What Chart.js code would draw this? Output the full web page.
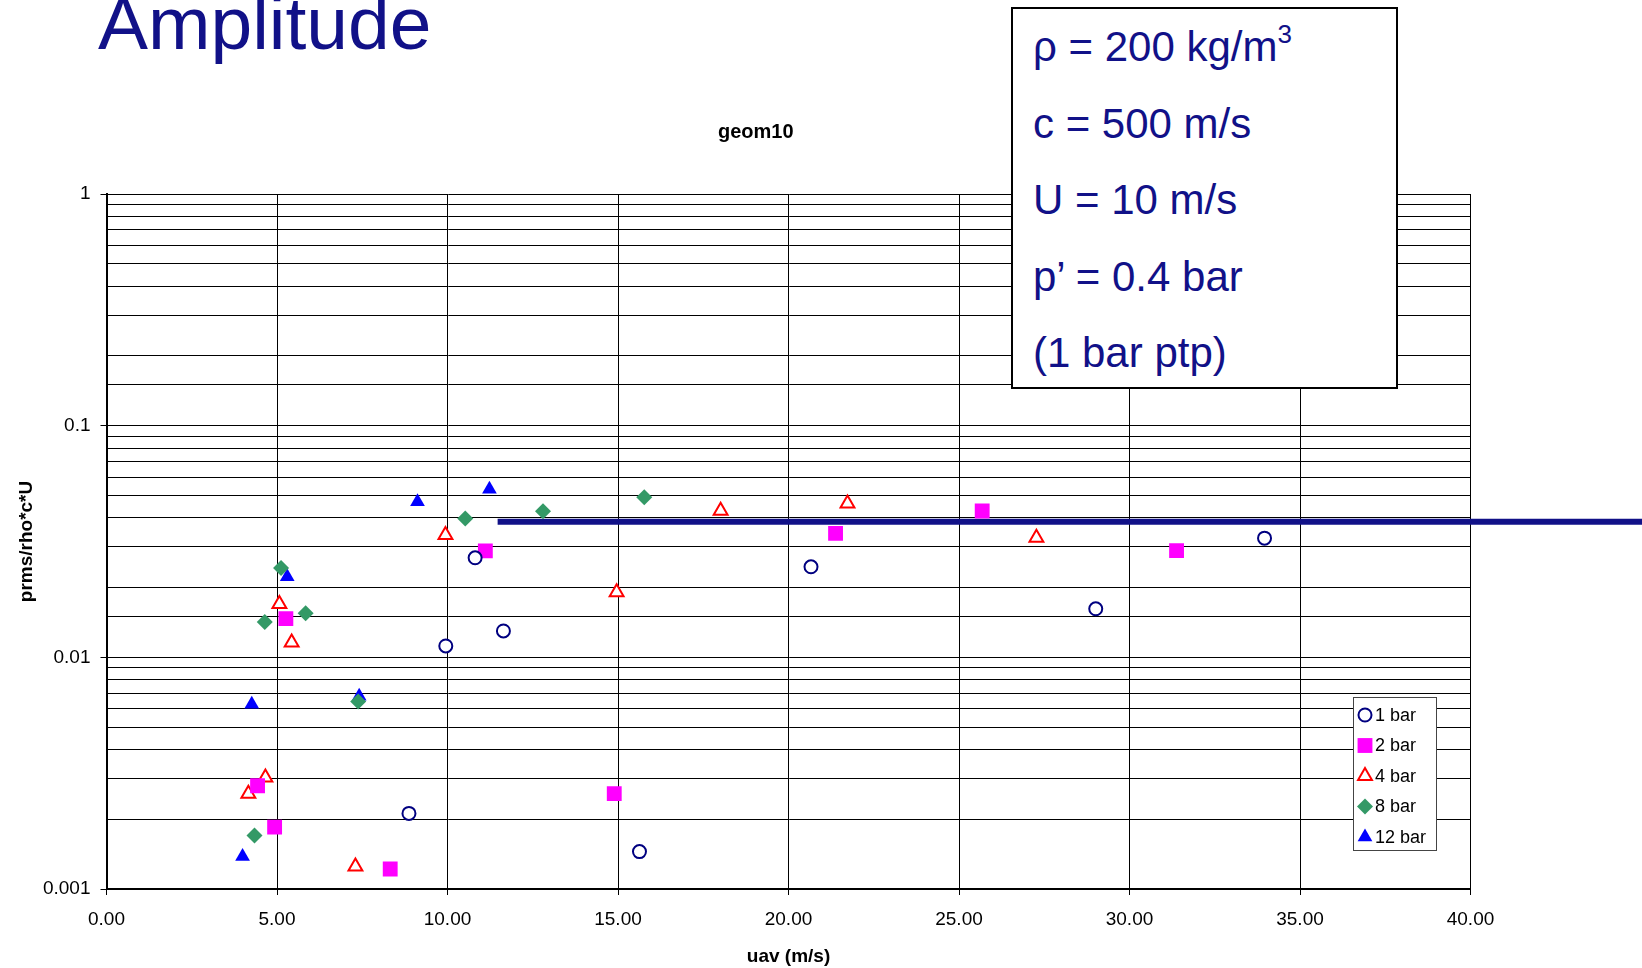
<!DOCTYPE html>
<html>
<head>
<meta charset="utf-8">
<title>Amplitude</title>
<script src="https://cdn.jsdelivr.net/npm/chart.js@4.4.1/dist/chart.umd.min.js"></script>
<style>
  body { margin: 0; background: #fff; }
  #wrap { position: relative; width: 1642px; height: 968px; overflow: hidden; font-family: 'Liberation Sans', Arial, sans-serif; }
  #ampChart { position: absolute; left: 0; top: 0; }
  #slideTitle { position: absolute; left: 98px; top: -14px; font-size: 75px; line-height: 74px; color: #111188; white-space: nowrap; }
  #params { position: absolute; left: 1011px; top: 7px; width: 387px; height: 382px; box-sizing: border-box;
            border: 2px solid #000; background: #fff; color: #111188; font-size: 42px; line-height: 76.6px;
            padding: 0 0 0 20px; white-space: nowrap; }
  #params sup { font-size: 26px; position: relative; top: -3px; vertical-align: super; line-height: 0; }
</style>
</head>
<body>
<div id="wrap">
  <canvas id="ampChart" width="1642" height="968"></canvas>
  <div id="slideTitle">Amplitude</div>
  <div id="params">
    <div>&rho; = 200 kg/m<sup>3</sup></div>
    <div>c = 500 m/s</div>
    <div>U = 10 m/s</div>
    <div>p&rsquo; = 0.4 bar</div>
    <div>(1 bar ptp)</div>
  </div>
</div>
<script>
// legend names
const seriesNames = ['1 bar', '2 bar', '4 bar', '8 bar', '12 bar'];

// uav (m/s) and prms/rho*c*U per pressure
const u1bar = [8.87, 9.95, 10.81, 11.64, 15.63, 20.66, 29.01, 33.96];
const p1bar = [0.00212, 0.0112, 0.0269, 0.0130, 0.00145, 0.0246, 0.0162, 0.0327];

const u2bar = [4.43, 4.93, 5.26, 8.32, 11.11, 14.89, 21.38, 25.68, 31.38];
const p2bar = [0.00279, 0.00185, 0.0147, 0.00122, 0.0288, 0.00258, 0.0343, 0.0428, 0.0289];

const u4bar = [4.16, 4.66, 5.07, 5.43, 7.30, 9.94, 14.96, 18.01, 21.73, 27.27];
const p4bar = [0.00258, 0.00303, 0.0170, 0.0116, 0.00125, 0.0337, 0.0191, 0.0429, 0.0461, 0.0328];

const u8bar = [4.34, 4.64, 5.12, 5.84, 7.38, 10.52, 12.80, 15.77];
const p8bar = [0.00170, 0.0142, 0.0243, 0.0155, 0.00644, 0.0397, 0.0427, 0.0491];

const u12bar = [3.99, 4.26, 5.30, 7.41, 9.12, 11.23];
const p12bar = [0.00138, 0.00628, 0.0223, 0.00680, 0.0469, 0.0532];

// drawn level line
const levelU = [11.47, 45.1];
const levelP = [0.0385, 0.0385];

const xTickLabels = ['0.00', '5.00', '10.00', '15.00', '20.00', '25.00', '30.00', '35.00', '40.00'];
const yTickLabels = ['0.001', '0.01', '0.1', '1'];

function pts(xs, ys) {
    return xs.map((x, i) => ({ x: x, y: ys[i] }));
}

function isDecade(v) {
    const l = Math.log10(v);
    return Math.abs(l - Math.round(l)) < 1e-6;
}

Chart.defaults.font.family = "'Liberation Sans', Arial, sans-serif";
Chart.defaults.color = '#000';

// legend box inside the plot, like the excel one
const boxLegend = {
    id: 'boxLegend',
    afterDraw(chart) {
        const c = chart.ctx;
        c.save();
        c.fillStyle = '#fff';
        c.fillRect(1353, 697, 83, 153);
        c.strokeStyle = '#444';
        c.lineWidth = 1;
        c.strokeRect(1353.5, 697.5, 83, 153);
        c.font = "18px 'Liberation Sans', Arial, sans-serif";
        c.textBaseline = 'middle';
        c.textAlign = 'left';
        seriesNames.forEach((name, i) => {
            const ds = chart.data.datasets[i];
            const y = 715 + i * 30.5;
            c.fillStyle = ds.backgroundColor;
            c.strokeStyle = ds.borderColor;
            c.lineWidth = ds.borderWidth;
            Chart.helpers.drawPoint(c, {
                pointStyle: ds.pointStyle,
                radius: ds.pointRadius,
                borderWidth: ds.borderWidth,
                rotation: 0
            }, 1365, y);
            c.fillStyle = '#000';
            c.fillText(name, 1375, y + 1);
        });
        c.restore();
    }
};

const ctx = document.getElementById('ampChart').getContext('2d');
const ampChart = new Chart(ctx, {
    type: 'scatter',
    data: {
        datasets: [{
            label: seriesNames[0],
            data: pts(u1bar, p1bar),
            pointStyle: 'circle',
            pointRadius: 6.5,
            borderWidth: 2,
            borderColor: '#000080',
            backgroundColor: '#fff'
        }, {
            label: seriesNames[1],
            data: pts(u2bar, p2bar),
            pointStyle: 'rect',
            pointRadius: 10.5,
            borderWidth: 0,
            borderColor: '#ff00ff',
            backgroundColor: '#ff00ff'
        }, {
            label: seriesNames[2],
            data: pts(u4bar, p4bar),
            pointStyle: 'triangle',
            pointRadius: 8,
            borderWidth: 2,
            borderColor: '#ff0000',
            backgroundColor: '#fff'
        }, {
            label: seriesNames[3],
            data: pts(u8bar, p8bar),
            pointStyle: 'rectRot',
            pointRadius: 8,
            borderWidth: 0,
            borderColor: '#339966',
            backgroundColor: '#339966'
        }, {
            label: seriesNames[4],
            data: pts(u12bar, p12bar),
            pointStyle: 'triangle',
            pointRadius: 8.5,
            borderWidth: 0,
            borderColor: '#0000ff',
            backgroundColor: '#0000ff'
        }, {
            label: 'level',
            data: pts(levelU, levelP),
            showLine: true,
            pointRadius: 0,
            borderWidth: 6,
            borderColor: '#111188',
            backgroundColor: '#111188',
            clip: false
        }]
    },
    options: {
        responsive: false,
        animation: false,
        events: [],
        layout: {
            padding: { left: 41, right: 171.5, top: 0, bottom: 0 }
        },
        plugins: {
            legend: { display: false },
            tooltip: { enabled: false },
            title: {
                display: true,
                text: 'geom10',
                color: '#000',
                font: { size: 20, weight: 'bold' },
                padding: { top: 120, bottom: 50 }
            }
        },
        scales: {
            x: {
                type: 'linear',
                min: 0,
                max: 40,
                afterFit: (s) => { s.height = 79; },
                grid: { color: '#000', lineWidth: 1, tickLength: 6, tickColor: '#000' },
                border: { color: '#000', width: 2 },
                ticks: {
                    stepSize: 5,
                    padding: 13,
                    font: { size: 19 },
                    callback: (v) => xTickLabels[Math.round(v / 5)]
                },
                title: {
                    display: true,
                    text: 'uav (m/s)',
                    font: { size: 19, weight: 'bold' },
                    padding: { top: 1.5, bottom: 0 }
                }
            },
            y: {
                type: 'logarithmic',
                min: 0.001,
                max: 1,
                afterFit: (s) => { s.width = 65.5; },
                grid: {
                    color: '#000',
                    lineWidth: 1,
                    tickLength: 6,
                    tickColor: (c) => (c.tick && isDecade(c.tick.value)) ? '#000' : 'rgba(0,0,0,0)'
                },
                border: { color: '#000', width: 2 },
                ticks: {
                    autoSkip: false,
                    padding: 10,
                    font: { size: 19 },
                    callback: (v) => isDecade(v) ? yTickLabels[Math.round(Math.log10(v)) + 3] : ''
                },
                title: {
                    display: true,
                    text: 'prms/rho*c*U',
                    font: { size: 19, weight: 'bold' },
                    padding: { top: -25.7, bottom: 0 }
                }
            }
        }
    },
    plugins: [boxLegend]
});
</script>
</body>
</html>
